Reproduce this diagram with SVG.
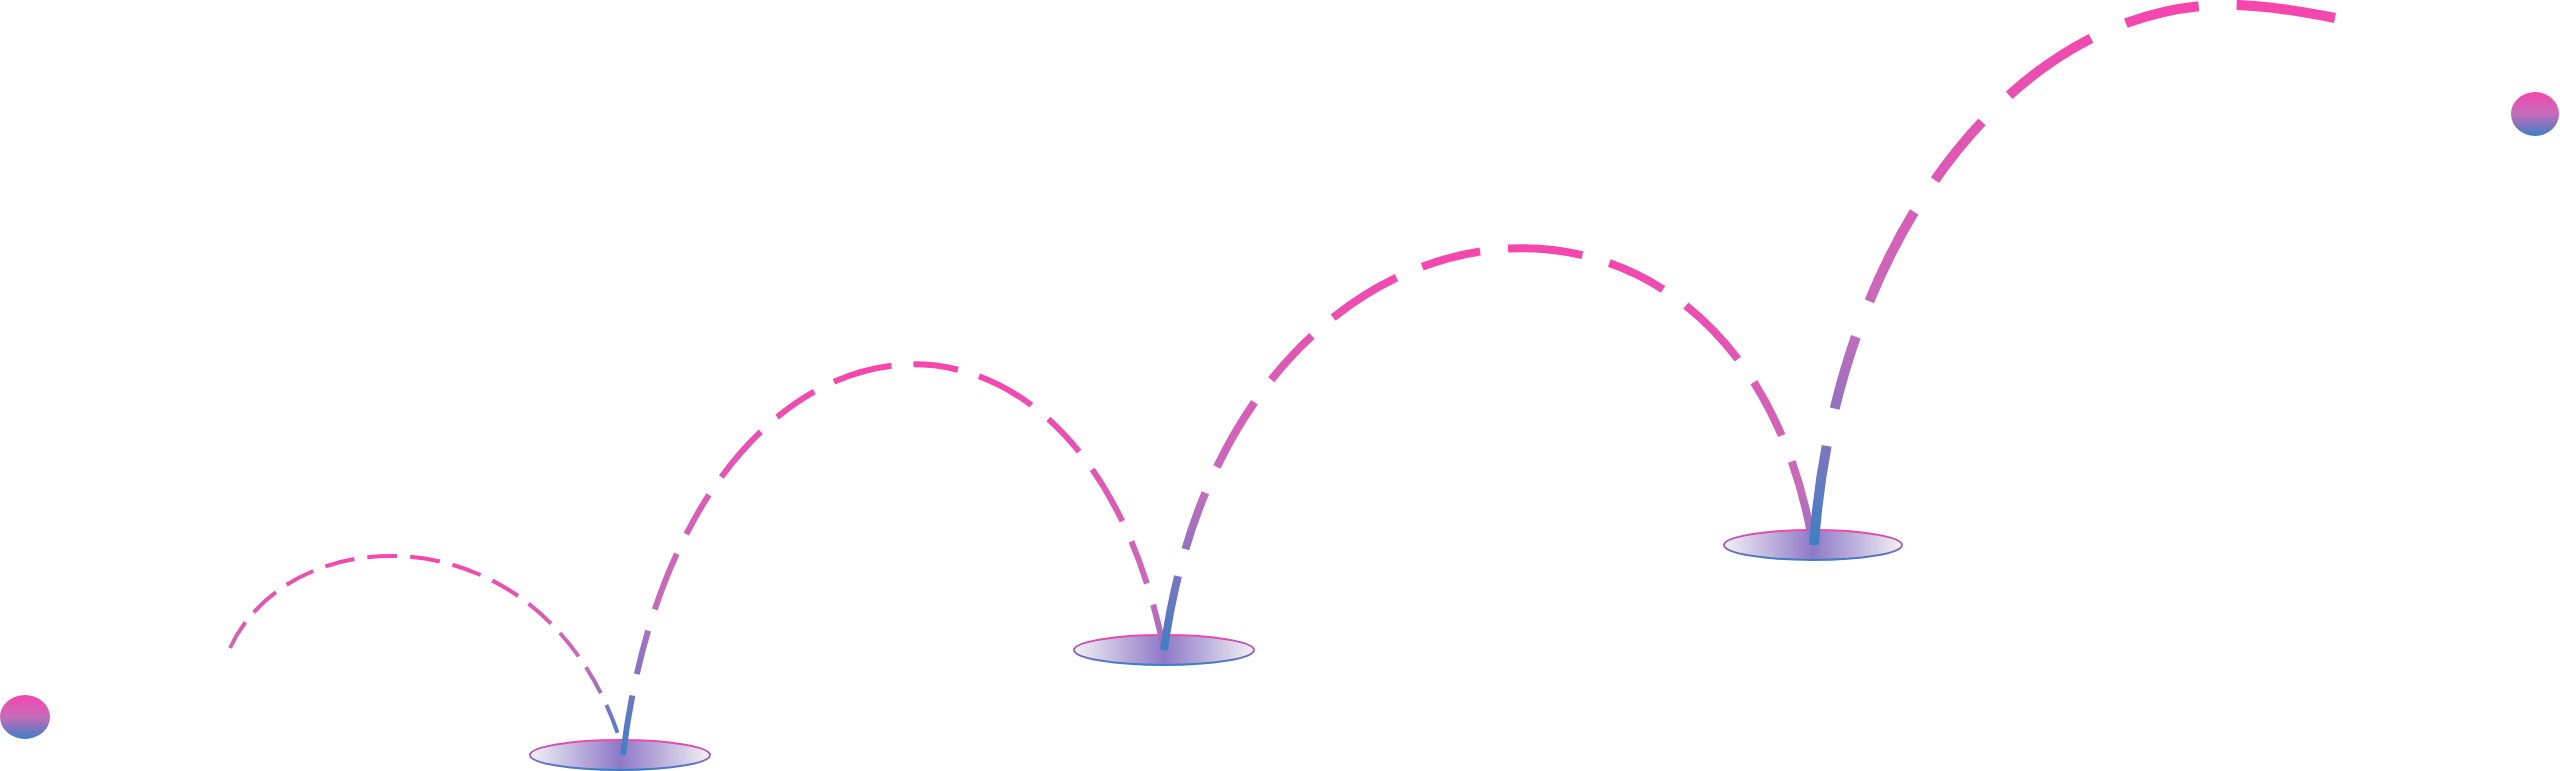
<svg xmlns="http://www.w3.org/2000/svg" width="2560" height="771" viewBox="0 0 2560 771">
<defs>
<linearGradient id="g1" gradientUnits="userSpaceOnUse" x1="0" y1="550" x2="0" y2="745"><stop offset="0" stop-color="#f546ae"/><stop offset="0.6" stop-color="#c56cba"/><stop offset="1" stop-color="#3d7fc4"/></linearGradient>
<linearGradient id="g2" gradientUnits="userSpaceOnUse" x1="0" y1="370" x2="0" y2="755"><stop offset="0" stop-color="#f546ae"/><stop offset="0.6" stop-color="#c56cba"/><stop offset="1" stop-color="#3d7fc4"/></linearGradient>
<linearGradient id="g3" gradientUnits="userSpaceOnUse" x1="0" y1="250" x2="0" y2="650"><stop offset="0" stop-color="#f546ae"/><stop offset="0.6" stop-color="#c56cba"/><stop offset="1" stop-color="#3d7fc4"/></linearGradient>
<linearGradient id="g4" gradientUnits="userSpaceOnUse" x1="0" y1="5" x2="0" y2="545"><stop offset="0" stop-color="#f546ae"/><stop offset="0.6" stop-color="#c56cba"/><stop offset="1" stop-color="#3d7fc4"/></linearGradient>
<linearGradient id="dot" x1="0" y1="0" x2="0" y2="1"><stop offset="0" stop-color="#f546ae"/><stop offset="0.5" stop-color="#c56cba"/><stop offset="1" stop-color="#3d7fc4"/></linearGradient>
<linearGradient id="efill" x1="0" y1="0" x2="1" y2="0"><stop offset="0" stop-color="#f2f0f4"/><stop offset="0.5" stop-color="#8e79c8"/><stop offset="1" stop-color="#f2f0f4"/></linearGradient>
<linearGradient id="estroke" x1="0" y1="0" x2="0" y2="1"><stop offset="0" stop-color="#f546ae"/><stop offset="1" stop-color="#3d7fc4"/></linearGradient>
<style>.arc{fill:none}.gnd{fill:url(#efill);stroke:url(#estroke);stroke-width:2}</style>
</defs>
<ellipse cx="25" cy="717" rx="25" ry="22" fill="url(#dot)"/>
<ellipse cx="2535" cy="114" rx="24" ry="22" fill="url(#dot)"/>
<ellipse class="gnd" cx="620" cy="755" rx="90" ry="15"/>
<ellipse class="gnd" cx="1164" cy="650" rx="90" ry="15"/>
<ellipse class="gnd" cx="1813" cy="545" rx="89" ry="15"/>
<g id="connectors">
<path class="arc" d="M230,648 C292,515 545,510 620,740" stroke="url(#g1)" stroke-width="4" stroke-dasharray="30 13"/>
<path class="arc" d="M623,755 C680,280 1080,230 1164,650" stroke="url(#g2)" stroke-width="6" stroke-dasharray="60 22 45 22"/>
<path class="arc" d="M1164,650 C1230,160 1740,110 1813,545" stroke="url(#g3)" stroke-width="8" stroke-dasharray="75 28 60 28"/>
<path class="arc" d="M1814,545 C1835,230 2030,-15 2254,6 C2280,8 2305,12 2335,18" stroke="url(#g4)" stroke-width="10" stroke-dasharray="100 38 75 38"/>
</g>
</svg>
